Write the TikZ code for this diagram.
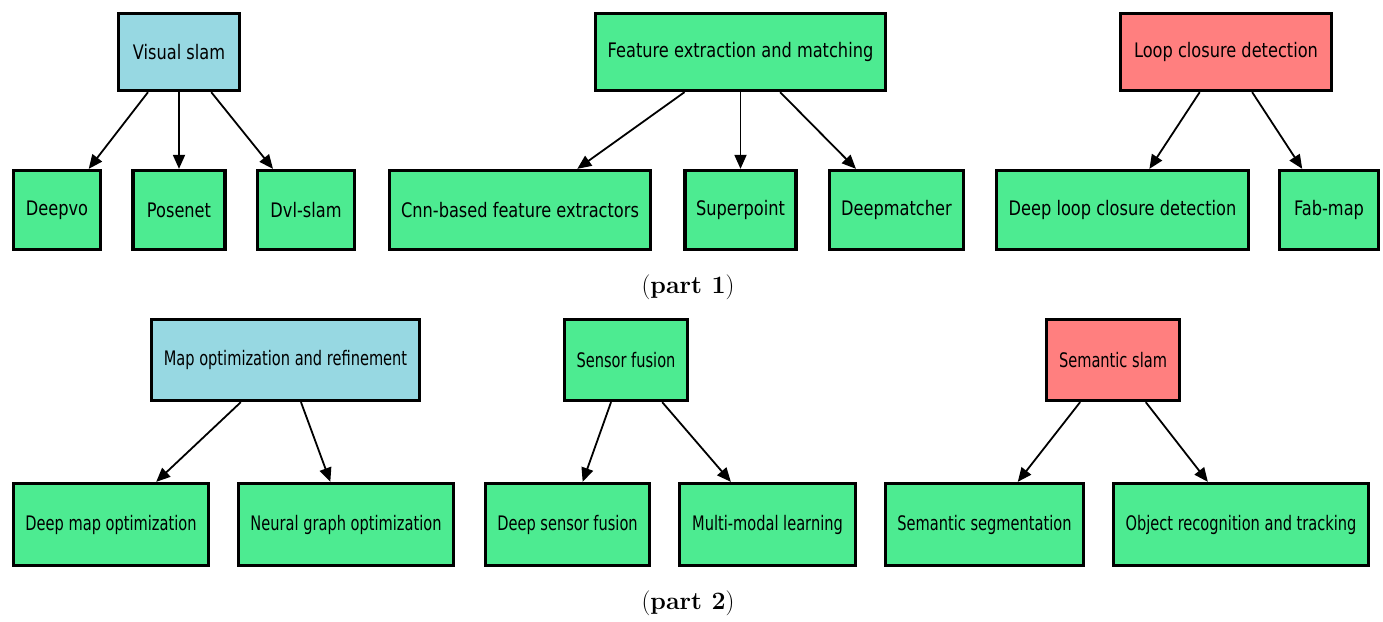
\documentclass[tikz,border=0pt]{standalone}
\usepackage{fontspec}
\usetikzlibrary{arrows.meta}
\newfontfamily\boxfont{DejaVu Sans}[FakeStretch=0.81]
\newfontfamily\narrowfont{DejaVu Sans}[FakeStretch=0.73]
\definecolor{boxblue}{RGB}{151,216,226}
\definecolor{boxgreen}{RGB}{77,235,145}
\definecolor{boxred}{RGB}{255,127,127}
\begin{document}
\begin{tikzpicture}[x=1pt,y=-1pt,
  box/.style={draw=black, line width=3.3pt, rectangle, inner sep=0pt,
    font=\boxfont\fontsize{20}{24}\selectfont, text=black},
  narrow/.style={font=\narrowfont\fontsize{20}{24}\selectfont},
  bluebox/.style={box, fill=boxblue},
  greenbox/.style={box, fill=boxgreen},
  redbox/.style={box, fill=boxred},
  top/.style={minimum height=77pt},
  leaf/.style={minimum height=79pt},
  top2/.style={narrow, minimum height=81pt},
  leaf2/.style={narrow, minimum height=82pt},
  edge/.style={line width=1.8pt, -{Triangle[length=14pt,width=12pt]}},
  caption/.style={font=\fontsize{25}{30}\selectfont}]
\useasboundingbox (0,0) rectangle (1383,621);

% part 1: parents
\node[bluebox, top, minimum width=121pt] (vs) at (179,52) {Visual slam};
\node[greenbox, top, minimum width=290pt] (fe) at (740.5,52) {Feature extraction and matching};
\node[redbox, top, minimum width=211pt] (lc) at (1226,52) {Loop closure detection};

% part 1: children
\node[greenbox, leaf, minimum width=87pt] (deepvo) at (57,210) {Deepvo};
\node[greenbox, leaf, minimum width=92pt] (posenet) at (179,210) {Posenet};
\node[greenbox, leaf, minimum width=97pt] (dvl) at (306,210) {Dvl-slam};
\node[greenbox, leaf, minimum width=261pt] (cnn) at (520,210) {Cnn-based feature extractors};
\node[greenbox, leaf, minimum width=111pt] (sp) at (740.5,210) {Superpoint};
\node[greenbox, leaf, minimum width=134pt] (dm) at (896.5,210) {Deepmatcher};
\node[greenbox, leaf, minimum width=252pt] (dlc) at (1122.5,210) {Deep loop closure detection};
\node[greenbox, leaf, minimum width=99pt] (fab) at (1329,210) {Fab-map};

\draw[edge] (vs) -- (deepvo);
\draw[edge] (vs) -- (posenet);
\draw[edge] (vs) -- (dvl);
\draw[edge] (fe) -- (cnn);
\draw[edge] (fe) -- (sp);
\draw[edge] (fe) -- (dm);
\draw[edge] (lc) -- (dlc);
\draw[edge] (lc) -- (fab);

\node[caption] (cap1) at (688,287) {(\textbf{part 1})};

% part 2: parents
\node[bluebox, top2, minimum width=268pt] (mo) at (285.5,360) {Map optimization and refinement};
\node[greenbox, top2, minimum width=123pt] (sf) at (626,360) {Sensor fusion};
\node[redbox, top2, minimum width=133pt] (ss) at (1113,360) {Semantic slam};

% part 2: children
\node[greenbox, leaf2, minimum width=195pt] (dmo) at (111,524.5) {Deep map optimization};
\node[greenbox, leaf2, minimum width=215pt] (ngo) at (346,524.5) {Neural graph optimization};
\node[greenbox, leaf2, minimum width=164pt] (dsf) at (567.5,524.5) {Deep sensor fusion};
\node[greenbox, leaf2, minimum width=176pt] (mml) at (767.5,524.5) {Multi-modal learning};
\node[greenbox, leaf2, minimum width=198pt] (seg) at (984.5,524.5) {Semantic segmentation};
\node[greenbox, leaf2, minimum width=255pt] (ort) at (1241,524.5) {Object recognition and tracking};

\draw[edge] (mo) -- (dmo);
\draw[edge] (mo) -- (ngo);
\draw[edge] (sf) -- (dsf);
\draw[edge] (sf) -- (mml);
\draw[edge] (ss) -- (seg);
\draw[edge] (ss) -- (ort);

\node[caption] (cap2) at (688,603) {(\textbf{part 2})};
\end{tikzpicture}
\end{document}
